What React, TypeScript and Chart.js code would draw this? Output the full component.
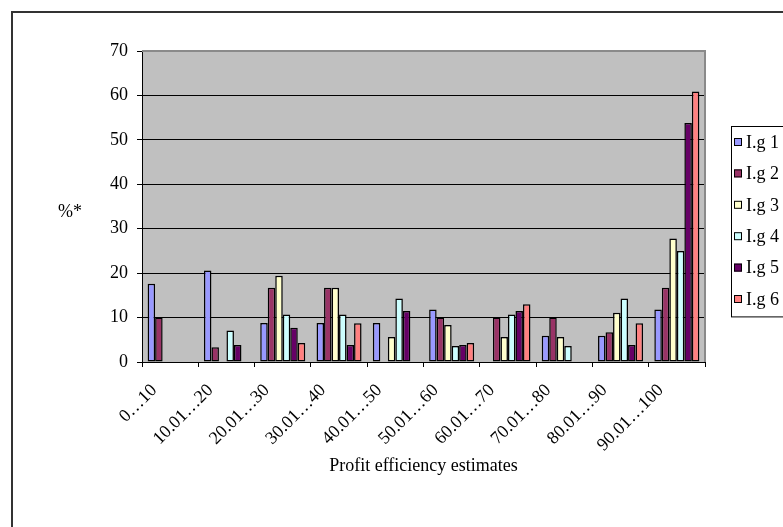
import React, { useEffect, useRef } from "react";
import { Chart, registerables } from "chart.js";

Chart.register(...registerables);

// ---- data ----
const categories = [
  "0…10",
  "10.01…20",
  "20.01…30",
  "30.01…40",
  "40.01…50",
  "50.01…60",
  "60.01…70",
  "70.01…80",
  "80.01…90",
  "90.01…100",
];
const seriesLabels = ["I.g 1", "I.g 2", "I.g 3", "I.g 4", "I.g 5", "I.g 6"];
const ig1 = [17.6, 20.6, 8.8, 8.8, 8.8, 11.8, 0, 5.9, 5.9, 11.8];
const ig2 = [10.0, 3.3, 16.7, 16.7, 0, 10.0, 10.0, 10.0, 6.7, 16.7];
const ig3 = [0, 0, 19.4, 16.7, 5.6, 8.3, 5.6, 5.6, 11.1, 27.8];
const ig4 = [0, 7.1, 10.7, 10.7, 14.3, 3.6, 10.7, 3.6, 14.3, 25.0];
const ig5 = [0, 3.8, 7.7, 3.8, 11.5, 3.8, 11.5, 0, 3.8, 53.8];
const ig6 = [0, 0, 4.3, 8.7, 0, 4.3, 13.0, 0, 8.7, 60.9];
const seriesValues = [ig1, ig2, ig3, ig4, ig5, ig6];
const seriesColors = ["#9999FF", "#993366", "#FFFFCC", "#CCFFFF", "#660066", "#FF8080"];
const yMin = 0;
const yMax = 70;
const yStep = 10;
const xTitle = "Profit efficiency estimates";
const yTitle = "%*";

const FONT = "'Liberation Serif', 'Times New Roman', serif";
const FS = 18;

const decorPlugin = {
  id: "decor",
  beforeDraw(chart: any) {
    const { ctx, chartArea: a } = chart;
    ctx.save();
    ctx.fillStyle = "#ffffff";
    ctx.fillRect(0, 0, chart.width, chart.height);
    ctx.fillStyle = "#C0C0C0";
    ctx.fillRect(a.left, a.top, a.right - a.left, a.bottom - a.top);
    ctx.restore();
  },
  afterDraw(chart: any) {
    const { ctx, chartArea: a } = chart;
    ctx.save();
    // plot area top/right border
    ctx.strokeStyle = "#8a8a8a";
    ctx.lineWidth = 2;
    ctx.beginPath();
    ctx.moveTo(a.left, a.top);
    ctx.lineTo(a.right, a.top);
    ctx.lineTo(a.right, a.bottom);
    ctx.stroke();
    // outer chart border
    ctx.strokeStyle = "#333333";
    ctx.lineWidth = 2;
    ctx.strokeRect(12, 12, chart.width + 40, chart.height + 40);
    // y title (horizontal)
    ctx.fillStyle = "#000";
    ctx.font = `${FS}px ${FONT}`;
    ctx.textAlign = "center";
    ctx.textBaseline = "middle";
    ctx.fillText(yTitle, 70, (a.top + a.bottom) / 2 + 6);
    // legend
    const lx = 731;
    const ly = 126;
    const lh = 31.4;
    const n = chart.data.datasets.length;
    ctx.strokeStyle = "#000";
    ctx.lineWidth = 1;
    ctx.strokeRect(lx + 0.5, ly + 0.5, 200, lh * n + 2);
    chart.data.datasets.forEach((ds: any, i: number) => {
      const cy = ly + 16 + i * lh;
      ctx.fillStyle = ds.backgroundColor;
      ctx.fillRect(lx + 3, cy - 4, 8, 8);
      ctx.strokeStyle = "#000";
      ctx.strokeRect(lx + 3.5, cy - 3.5, 7, 7);
      ctx.fillStyle = "#000";
      ctx.textAlign = "left";
      ctx.textBaseline = "middle";
      ctx.fillText(ds.label, lx + 15, cy + 1);
    });
    ctx.restore();
  },
};

export default function App() {
  const ref = useRef<HTMLCanvasElement | null>(null);
  useEffect(() => {
    if (!ref.current) return;
    const chart = new Chart(ref.current, {
      type: "bar",
      data: {
        labels: categories,
        datasets: seriesValues.map((vals, i) => ({
          label: seriesLabels[i],
          data: vals,
          backgroundColor: seriesColors[i],
          borderColor: "#000000",
          borderWidth: 1.5,
          borderSkipped: false,
          categoryPercentage: 0.8,
          barPercentage: 1.0,
        })),
      },
      options: {
        responsive: false,
        animation: false,
        devicePixelRatio: 1,
        layout: { padding: { left: 0, top: 51, right: 78, bottom: 50 } },
        plugins: {
          legend: { display: false },
          tooltip: { enabled: false },
        },
        scales: {
          x: {
            offset: true,
            grid: {
              display: true,
              offset: true,
              drawOnChartArea: false,
              drawTicks: true,
              tickLength: 5,
              color: "#000",
            },
            border: { display: true, color: "#000", width: 1 },
            ticks: {
              autoSkip: false,
              minRotation: 45,
              maxRotation: 45,
              labelOffset: -16,
              padding: 13,
              color: "#000",
              font: { family: FONT, size: FS },
            },
            title: {
              display: true,
              text: xTitle,
              color: "#000",
              font: { family: FONT, size: FS },
              padding: { top: 0, bottom: 0 },
            },
            afterFit(scale: any) {
              scale.height = 115;
            },
          },
          y: {
            min: yMin,
            max: yMax,
            ticks: {
              stepSize: yStep,
              padding: 9,
              color: "#000",
              font: { family: FONT, size: FS },
            },
            grid: { color: "#000", lineWidth: 1, tickLength: 5, drawTicks: true },
            border: { display: true, color: "#000", width: 1 },
            afterFit(scale: any) {
              scale.width = 142;
            },
          },
        },
      },
      plugins: [decorPlugin],
    });
    return () => chart.destroy();
  }, []);
  return (
    <div style={{ position: "fixed", left: 0, top: 0, width: 783, height: 527, background: "#fff" }}>
      <canvas ref={ref} width={783} height={527} style={{ display: "block" }} />
    </div>
  );
}
